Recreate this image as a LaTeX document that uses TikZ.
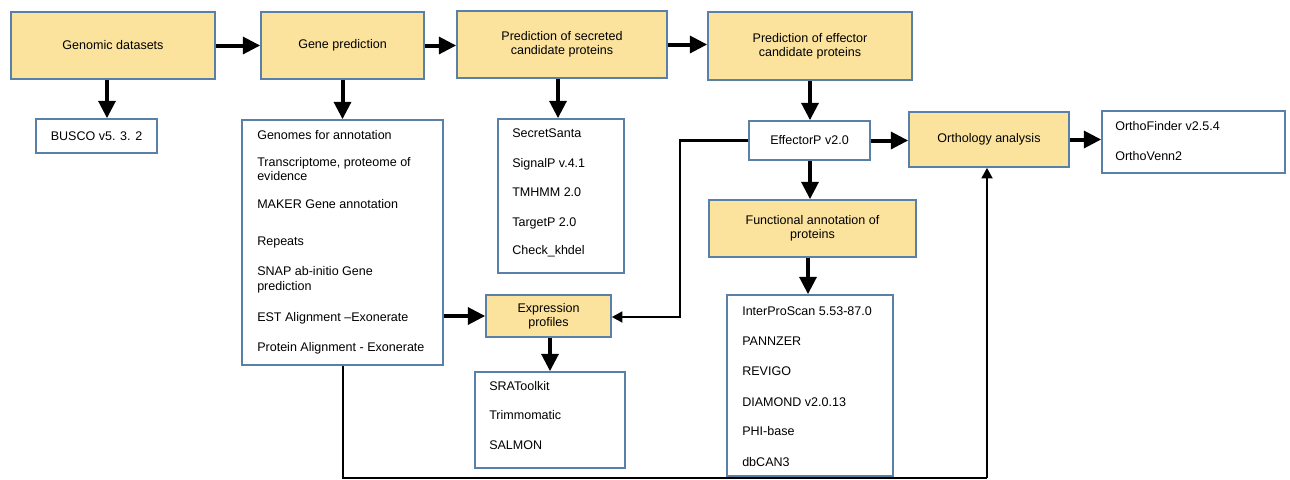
\documentclass[tikz,border=0pt]{standalone}
\usepackage{fontspec}
\setmainfont{Liberation Sans}
\usetikzlibrary{arrows.meta,calc}
\definecolor{boxfill}{RGB}{251,227,158}
\definecolor{boxline}{RGB}{88,128,168}
\begin{document}
\begin{tikzpicture}[x=0.75pt,y=-0.75pt,
  font=\fontsize{9.4}{10.2}\selectfont,
  ybox/.style={draw=boxline, line width=1.1pt, fill=boxfill, align=center, inner sep=0pt},
  wbox/.style={draw=boxline, line width=1.1pt, fill=white, inner sep=0pt},
  item/.style={anchor=base west, inner sep=0pt},
  arr/.style={line width=3pt, -{Triangle[length=13pt,width=12.5pt]}},
  thinarr/.style={line width=2.2pt, -{Triangle[length=8pt,width=8pt]}},
  plain/.style={line width=2.2pt}]
\useasboundingbox (0,0) rectangle (1290,479);
\fill[white] (0,0) rectangle (1290,479);

% top row
\node[ybox, minimum width=153pt, minimum height=50.25pt] (gd) at (113,45.5) {Genomic datasets};
\node[ybox, minimum width=122.25pt, minimum height=50.25pt] (gp) at (342.5,45.5) {Gene prediction};
\node[ybox, minimum width=157.5pt, minimum height=50.25pt] (sec) at (562,44.5) {Prediction of secreted\\candidate proteins};
\node[ybox, minimum width=153pt, minimum height=51pt] (eff) at (810,46) {Prediction of effector\\candidate proteins};

% second level
\node[wbox, minimum width=90.75pt, minimum height=25.5pt] (busco) at (96.5,136) {BUSCO v5. 3. 2};
\node[wbox, minimum width=150.75pt, minimum height=183.75pt] (ann) at (342.5,242.5) {};
\node[wbox, minimum width=94.5pt, minimum height=115.5pt] (seclist) at (561,196) {};
\node[wbox, minimum width=90.75pt, minimum height=29.25pt] (effp) at (809.5,140.5) {EffectorP v2.0};
\node[ybox, minimum width=120pt, minimum height=41.25pt] (orth) at (989,139.5) {Orthology analysis};
\node[wbox, minimum width=137.25pt, minimum height=46.5pt] (of) at (1193.5,142) {};
\node[ybox, minimum width=155.25pt, minimum height=42.75pt] (func) at (812.5,228.5) {Functional annotation of\\proteins};
\node[ybox, minimum width=93.75pt, minimum height=31.5pt] (expr) at (548.5,316) {Expression\\profiles};
\node[wbox, minimum width=112.5pt, minimum height=72pt] (sra) at (550,420) {};
\node[wbox, minimum width=124.5pt, minimum height=135.75pt] (ips) at (810,385.5) {};

% gene annotation items
\node[item] (a1) at (257,139.5) {Genomes for annotation};
\node[item] (a2) at (257,166.5) {Transcriptome, proteome of};
\node[item] (a3) at (257,180.5) {evidence};
\node[item] (a4) at (257,208.5) {MAKER Gene annotation};
\node[item] (a5) at (257,245.5) {Repeats};
\node[item] (a6) at (257,275.5) {SNAP ab-initio Gene};
\node[item] (a7) at (257,290.5) {prediction};
\node[item] (a8) at (257,321.5) {EST Alignment –Exonerate};
\node[item] (a9) at (257,351.5) {Protein Alignment - Exonerate};

% secreted items
\node[item] (s1) at (512,137.5) {SecretSanta};
\node[item] (s2) at (512,167.5) {SignalP v.4.1};
\node[item] (s3) at (512,196.5) {TMHMM 2.0};
\node[item] (s4) at (512,226) {TargetP 2.0};
\node[item] (s5) at (512,254.5) {Check\_khdel};

% expression items
\node[item] (r1) at (489,390.5) {SRAToolkit};
\node[item] (r2) at (489,419.5) {Trimmomatic};
\node[item] (r3) at (489,449) {SALMON};

% orthology items
\node[item] (o1) at (1115,130.5) {OrthoFinder v2.5.4};
\node[item] (o2) at (1115,160.5) {OrthoVenn2};

% functional items
\node[item] (f1) at (742,315.5) {InterProScan 5.53-87.0};
\node[item] (f2) at (742,345.5) {PANNZER};
\node[item] (f3) at (742,375.5) {REVIGO};
\node[item] (f4) at (742,406.5) {DIAMOND v2.0.13};
\node[item] (f5) at (742,435.5) {PHI-base};
\node[item] (f6) at (742,466.5) {dbCAN3};

% arrows
\draw[arr] (gd.east) -- (gp.west);
\draw[arr] (gp.east) -- (gp.east -| sec.west);
\draw[arr] (sec.east) -- (sec.east -| eff.west);
\draw[arr] (gd.south -| 107,0) -- (busco.north -| 107,0);
\draw[arr] (gp.south) -- (gp.south |- ann.north);
\draw[arr] (sec.south -| 558,0) -- (seclist.north -| 558,0);
\draw[arr] (eff.south) -- (eff.south |- effp.north);
\draw[arr] (effp.south -| 810,0) -- (func.north -| 810,0);
\draw[arr] (func.south -| 808,0) -- (ips.north -| 808,0);
\draw[arr] (effp.east) -- (effp.east -| orth.west);
\draw[arr] (orth.east) -- (orth.east -| of.west);
\draw[arr] (ann.east |- expr.west) -- (expr.west);
\draw[arr] (expr.south -| 550,0) -- (sra.north -| 550,0);

\coordinate (turn) at (680,317);
\draw[thinarr] (effp.west) -| (turn) -- (expr.east |- turn);

\coordinate (bot) at (343,478);
\draw[plain] (ann.south -| bot) -- (bot) -- (987,478) coordinate (botr);
\draw[thinarr] (botr) -- (orth.south -| botr);
\end{tikzpicture}
\end{document}
